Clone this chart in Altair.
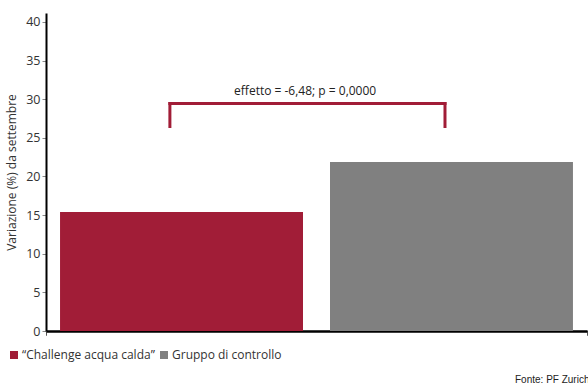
import altair as alt
import pandas as pd

categories = ["“Challenge acqua calda”", "Gruppo di controllo"]
values = [15.4, 21.88]
colors = ["#A11D37", "#808080"]

bracket_x = [0.229, 0.7375]
bracket_y_top = 29.44
bracket_y_bottom = 26.46
annotation = "effetto = -6,48; p = 0,0000"
annotation_x = 0.479
annotation_y = 31.0
source = "Fonte: PF Zurich"
y_ticks = [0, 5, 10, 15, 20, 25, 30, 35, 40]

FONT = "Open Sans"
bars_df = pd.DataFrame({"cat": categories, "val": values})
segs = pd.DataFrame({
    "x": [bracket_x[0], bracket_x[0], bracket_x[1]],
    "x2": [bracket_x[1], bracket_x[0], bracket_x[1]],
    "y": [bracket_y_top, bracket_y_bottom, bracket_y_bottom],
    "y2": [bracket_y_top, bracket_y_top, bracket_y_top],
})
ann_df = pd.DataFrame({"x": [annotation_x], "y": [annotation_y], "t": [annotation]})

yscale = alt.Scale(domain=[0, 41.15], nice=False, zero=True)
yaxis = alt.Axis(values=y_ticks, grid=False, domainColor="black", domainWidth=2,
                 tickColor="#888", tickSize=4, tickWidth=1, labelFontSize=12.5,
                 labelColor="#333", labelFont=FONT, labelPadding=2,
                 title="Variazione (%) da settembre", titleFont=FONT,
                 titleFontSize=12, titleFontWeight="normal", titleColor="#333",
                 titlePadding=7)

bars = alt.Chart(bars_df).mark_bar().encode(
    x=alt.X("cat:N", scale=alt.Scale(paddingInner=0.1, paddingOuter=0.052),
            axis=None, sort=categories),
    y=alt.Y("val:Q", scale=yscale, axis=yaxis),
    color=alt.Color("cat:N", scale=alt.Scale(domain=categories, range=colors),
                    legend=alt.Legend(title=None, orient="none", direction="horizontal",
                                      legendX=-38, legendY=336, symbolType="square",
                                      symbolSize=64, symbolStrokeWidth=0,
                                      labelFont=FONT, labelFontSize=12,
                                      labelColor="#333", columnPadding=3,
                                      symbolOffset=0, labelOffset=2)),
)

xq = alt.Scale(domain=[0, 1], nice=False)
xaxis = alt.Axis(orient="bottom", values=[0, 1], labels=False, title=None,
                 grid=False, domainColor="black", domainWidth=2,
                 tickColor="#555", tickSize=4)
bracket = alt.Chart(segs).mark_rule(color="#A11D37", strokeWidth=3, strokeCap="square").encode(
    x=alt.X("x:Q", scale=xq, axis=xaxis),
    x2="x2:Q",
    y=alt.Y("y:Q", scale=yscale, axis=yaxis),
    y2="y2:Q",
)

ann = alt.Chart(ann_df).mark_text(font=FONT, fontSize=12, color="#222", baseline="middle").encode(
    x=alt.X("x:Q", scale=xq, axis=xaxis), y=alt.Y("y:Q", scale=yscale, axis=yaxis), text="t:N"
)

src = alt.Chart(pd.DataFrame({"t": [source]})).mark_text(
    font="Liberation Sans", fontSize=10, color="#222", align="left", baseline="alphabetic"
).encode(x=alt.value(469), y=alt.value(370), text="t:N")

chart = alt.layer(bars, bracket, ann, src).resolve_scale(x="independent").properties(
    width=541, height=318,
    autosize=alt.AutoSizeParams(type="none"),
    padding={"left": 46, "top": 13, "right": 1, "bottom": 54},
).configure_view(stroke=None)

chart.save("out.html", embed_options={"renderer": "svg", "actions": False})
